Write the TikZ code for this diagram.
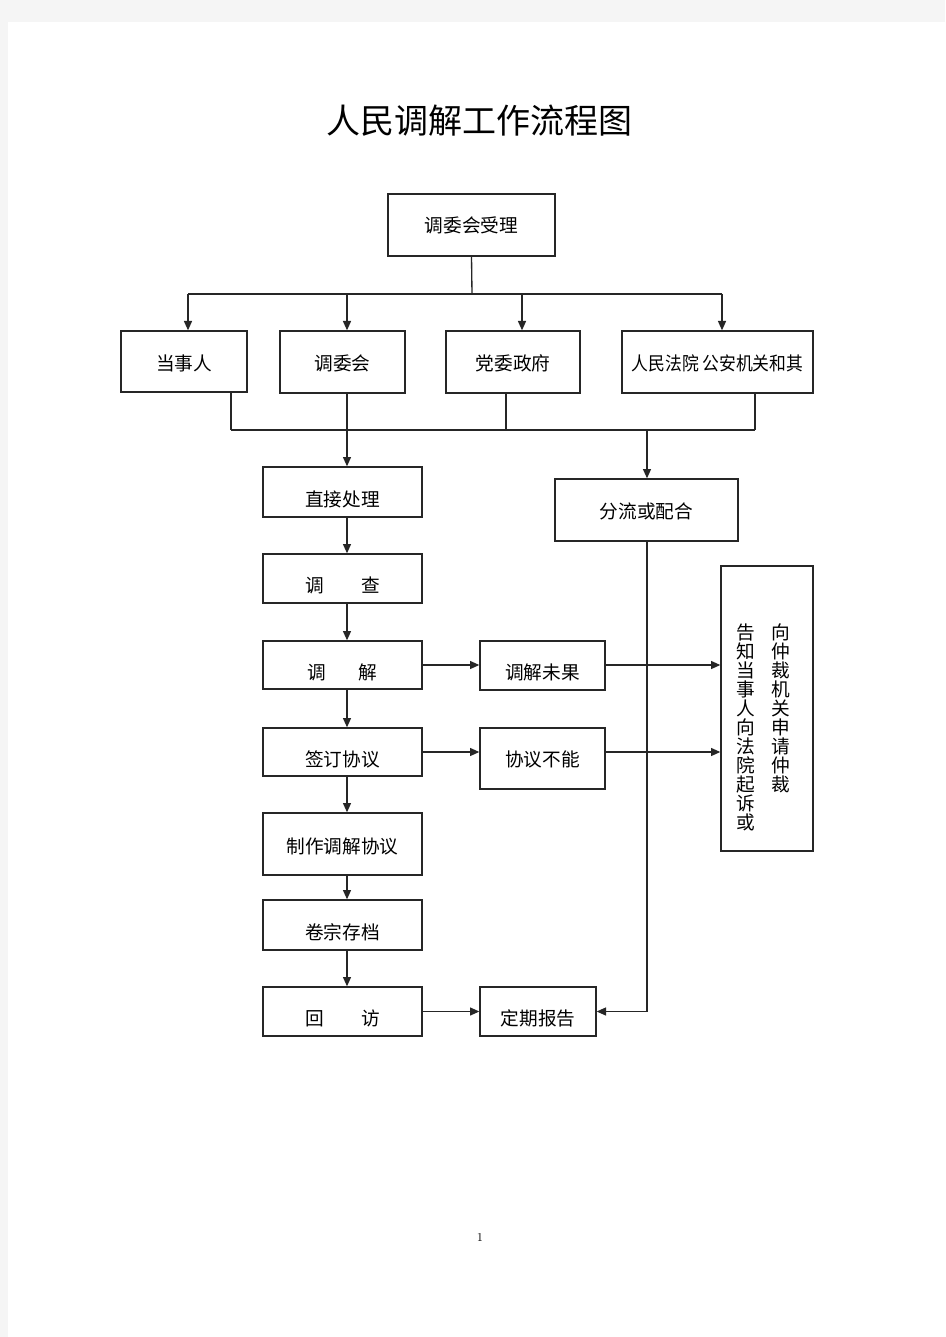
\documentclass[tikz,border=0pt]{standalone}
\usepackage{fontspec}
\newfontfamily\cjk{Noto Sans CJK SC}
\usetikzlibrary{arrows.meta}
\newcommand\bx[7][0]{\node[box, minimum width={(#5-#3)*0.75pt}, minimum height={(#6-#4)*0.75pt},
  label={[boxlbl, yshift={-#1*0.75pt}]center:{#7}}] (#2) at ({(#3+#5)/2},{(#4+#6)/2}) {};}
\begin{document}
\begin{tikzpicture}[x=0.75pt,y=-0.75pt,
  box/.style={draw=black!85, line width=1pt, fill=white, inner sep=0pt},
  boxlbl/.style={inner sep=0pt, font=\cjk\fontsize{14}{16}\selectfont},
  conn/.style={draw=black!85, line width=1pt},
  arr/.style={conn, -{Triangle[length=7pt,width=6pt]}},
  vtxt/.style={inner sep=0pt, align=center, anchor=north, font=\cjk\fontsize{14}{14.2}\selectfont}]
\fill[black!4] (0,0) rectangle (945,1337);
\fill[white] (8,22) rectangle (945,1337);
\useasboundingbox (0,0) rectangle (945,1337);

\node[font=\cjk\fontsize{25.5}{30}\selectfont] (title) at (479,121) {人民调解工作流程图};

\bx{top}{388}{194}{555}{256}{调委会受理}
\bx[1.5]{p1}{121}{331}{247}{392}{当事人}
\bx[1]{p2}{280}{331}{405}{393}{调委会}
\bx[1]{p3}{446}{331}{580}{393}{党委政府}
\bx[1]{p4}{622}{331}{813}{393}{\scalebox{0.9}[1]{人民法院 公安机关和其}}

\bx[7]{s1}{263}{467}{422}{517}{直接处理}
\bx[1]{fen}{555}{479}{738}{541}{分流或配合}
\bx[7]{s2}{263}{554}{422}{603}{调\hspace{2em}查}
\bx[7]{s3}{263}{641}{422}{689}{调\hspace{1.7em}解}
\bx[7]{s4}{263}{728}{422}{776}{签订协议}
\bx[2]{s5}{263}{813}{422}{875}{制作调解协议}
\bx[7]{s6}{263}{900}{422}{950}{卷宗存档}
\bx[7]{s7}{263}{987}{422}{1036}{回\hspace{2em}访}
\bx[7]{w1}{480}{641}{605}{690}{调解未果}
\bx[1]{w2}{480}{728}{605}{789}{协议不能}
\bx[7]{rep}{480}{987}{596}{1036}{定期报告}
\bx{rt}{721}{566}{813}{851}{}
\node[vtxt] (v1) at (746,624) {告\\知\\当\\事\\人\\向\\法\\院\\起\\诉\\或};
\node[vtxt] (v2) at (781,624) {向\\仲\\裁\\机\\关\\申\\请\\仲\\裁};

\node[font=\fontsize{9}{10}\selectfont] (pg) at (480,1237) {1};

% top bus
\coordinate (t0) at (472,294);
\coordinate (a1) at (188,294);
\coordinate (a2) at (347,294);
\coordinate (a3) at (522,294);
\coordinate (a4) at (722,294);
\draw[conn] (top.south) -- (t0);
\draw[conn] (a1) -- (a4);
\draw[arr] (a1) -- (a1 |- p1.north);
\draw[arr] (a2) -- (a2 |- p2.north);
\draw[arr] (a3) -- (a3 |- p3.north);
\draw[arr] (a4) -- (a4 |- p4.north);

% lower bus
\coordinate (b1) at (231,430);
\coordinate (b2) at (347,430);
\coordinate (b3) at (506,430);
\coordinate (b5) at (647,430);
\coordinate (b4) at (755,430);
\draw[conn] (b1 |- p1.south) -- (b1);
\draw[conn] (b2 |- p2.south) -- (b2);
\draw[conn] (b3 |- p3.south) -- (b3);
\draw[conn] (b4 |- p4.south) -- (b4);
\draw[conn] (b1) -- (b4);
\draw[arr] (b2) -- (b2 |- s1.north);
\draw[arr] (b5) -- (b5 |- fen.north);

% main column
\draw[arr] (b2 |- s1.south) -- (b2 |- s2.north);
\draw[arr] (b2 |- s2.south) -- (b2 |- s3.north);
\draw[arr] (b2 |- s3.south) -- (b2 |- s4.north);
\draw[arr] (b2 |- s4.south) -- (b2 |- s5.north);
\draw[arr] (b2 |- s5.south) -- (b2 |- s6.north);
\draw[arr] (b2 |- s6.south) -- (b2 |- s7.north);

% side arrows
\draw[arr] (s3.east) -- (s3.east -| w1.west);
\draw[arr] (s3.east -| w1.east) -- (s3.east -| rt.west);
\draw[arr] (s4.east) -- (s4.east -| w2.west);
\draw[arr] (s4.east -| w2.east) -- (s4.east -| rt.west);
\draw[arr] (s7.east) -- (s7.east -| rep.west);
\draw[arr] (b5 |- fen.south) |- (rep.east);
\end{tikzpicture}
\end{document}
